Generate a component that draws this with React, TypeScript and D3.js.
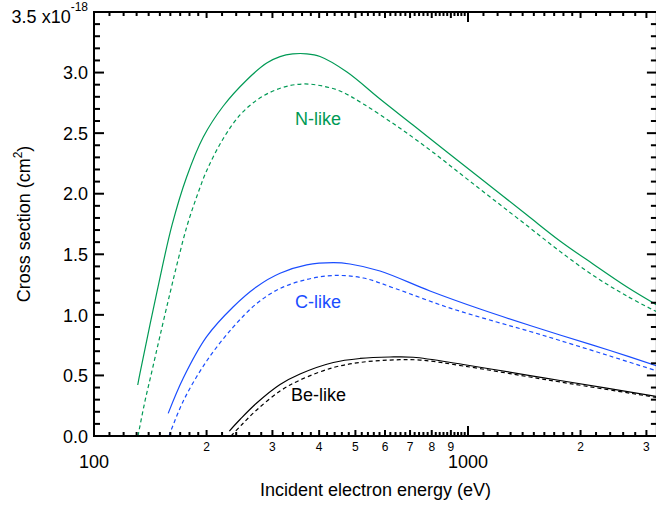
import React from "react";
import * as d3 from "d3";

// ---- data (energy in eV, cross section in 1e-18 cm^2) ----
const nSolidE = [130.9, 132.7, 147.1, 161.7, 176.9, 196.0, 221.7, 256.1, 289.6, 314.4, 340, 370, 402.1, 474.7, 581.8, 712.8, 878.7, 1077, 1438, 1762, 2159, 2662, 3202];
const nSolidS = [0.421, 0.516, 1.18, 1.742, 2.138, 2.468, 2.724, 2.939, 3.079, 3.132, 3.154, 3.155, 3.133, 3.005, 2.782, 2.567, 2.344, 2.13, 1.824, 1.61, 1.42, 1.23, 1.081];
const nDashE = [131.1, 136.9, 142.9, 150.1, 159.7, 167.8, 177.3, 188.5, 200.5, 221.3, 245.7, 272.8, 301.2, 334.3, 366.6, 402.1, 454.8, 524.9, 644.8, 791.4, 971.5, 1168.5, 1435, 1762, 2163, 2657, 3202];
const nDashS = [0, 0.289, 0.537, 0.825, 1.18, 1.453, 1.734, 1.981, 2.196, 2.452, 2.65, 2.774, 2.848, 2.893, 2.906, 2.893, 2.848, 2.741, 2.559, 2.361, 2.146, 1.953, 1.739, 1.524, 1.325, 1.156, 1.024];
const cSolidE = [157.9, 173.3, 200.1, 235.8, 272.3, 314.4, 370.5, 436.4, 483.6, 581.8, 791.4, 1077, 1465, 1762, 2397, 3202];
const cSolidS = [0.187, 0.479, 0.82, 1.067, 1.232, 1.343, 1.412, 1.431, 1.42, 1.362, 1.197, 1.048, 0.912, 0.834, 0.706, 0.578];
const cDashE = [158.7, 173.3, 200.1, 235.8, 272.3, 314.4, 370.5, 436.4, 524.9, 644.8, 877.1, 1193, 1465, 1762, 2397, 3202];
const cDashS = [0, 0.289, 0.619, 0.9, 1.094, 1.218, 1.292, 1.325, 1.304, 1.213, 1.065, 0.941, 0.863, 0.788, 0.66, 0.537];
const beSolidE = [230.1, 245.7, 272.3, 314.4, 355.5, 436.4, 514.4, 618.7, 714.1, 971.5, 1465, 1762, 3202];
const beSolidS = [0.041, 0.136, 0.272, 0.425, 0.512, 0.607, 0.64, 0.652, 0.65, 0.59, 0.499, 0.458, 0.326];
const beDashE = [232.5, 248.7, 272.3, 314.4, 355.5, 436.4, 514.4, 618.7, 744.2, 971.5, 1465, 1762, 3202];
const beDashS = [0, 0.095, 0.215, 0.371, 0.462, 0.565, 0.607, 0.627, 0.627, 0.578, 0.487, 0.446, 0.318];

const yTicks = [0, 0.5, 1.0, 1.5, 2.0, 2.5, 3.0];
const yTop = 3.5;
const xMajor = [100, 1000];
const xLabeled = [200, 300, 400, 500, 600, 700, 800, 900, 2000, 3000];
const xLabelText = ["2", "3", "4", "5", "6", "7", "8", "9", "2", "3"];

const GREEN = "#009a55";
const BLUE = "#1a4dff";
const BLACK = "#000000";

const W = 656, H = 506;
const L = 94, R = 656.9, T = 12, B = 436;
const FONT = "'Liberation Sans', Arial, Helvetica, sans-serif";

export default function App() {
  const x = d3.scaleLog().domain([100, 3200]).range([L, R]);
  const y = d3.scaleLinear().domain([0, 3.5]).range([B, T]);
  const line = d3.line<[number, number]>().x(d => x(d[0])).y(d => y(d[1])).curve(d3.curveCatmullRom.alpha(0.5));
  const mk = (E: number[], S: number[]) => line(E.map((e, i) => [e, S[i]] as [number, number])) || "";

  // minor ticks on x
  const xMinor: number[] = [];
  for (let v = 110; v < 200; v += 10) xMinor.push(v);
  for (let v = 220; v < 1000; v += 20) if (v % 100 !== 0) xMinor.push(v);
  for (let v = 1100; v < 2000; v += 100) xMinor.push(v);
  for (let v = 2200; v < 3200; v += 200) if (v % 1000 !== 0) xMinor.push(v);
  const yMinor: number[] = [];
  for (let i = 1; i < 35; i++) if (i % 5 !== 0) yMinor.push(i / 10);

  const series = [
    { E: nSolidE, S: nSolidS, c: GREEN, dash: undefined },
    { E: nDashE, S: nDashS, c: GREEN, dash: "4,3" },
    { E: cSolidE, S: cSolidS, c: BLUE, dash: undefined },
    { E: cDashE, S: cDashS, c: BLUE, dash: "4,3" },
    { E: beSolidE, S: beSolidS, c: BLACK, dash: undefined },
    { E: beDashE, S: beDashS, c: BLACK, dash: "4,3" },
  ];

  return (
    <svg width={W} height={H} style={{ position: "absolute", left: 0, top: 0, background: "#fff" }} fontFamily={FONT}>
      <defs>
        <clipPath id="plot"><rect x={L} y={T} width={R - L} height={B - T} /></clipPath>
      </defs>
      <g clipPath="url(#plot)" fill="none">
        {series.map((s, i) => (
          <path key={i} d={mk(s.E, s.S)} stroke={s.c} strokeWidth={1.2} strokeDasharray={s.dash} />
        ))}
      </g>
      {/* frame */}
      <rect x={L} y={T} width={R - L} height={B - T} fill="none" stroke="#000" strokeWidth={2} />
      {/* ticks */}
      <g stroke="#000" strokeWidth={2}>
        {[...yTicks, yTop].map(v => (
          <g key={"ym" + v}>
            <line x1={L} x2={L + 10} y1={y(v)} y2={y(v)} />
            <line x1={R} x2={R - 10} y1={y(v)} y2={y(v)} />
          </g>
        ))}
        {yMinor.map(v => (
          <g key={"yn" + v}>
            <line x1={L} x2={L + 6} y1={y(v)} y2={y(v)} />
            <line x1={R} x2={R - 6} y1={y(v)} y2={y(v)} />
          </g>
        ))}
        {xMajor.map(v => (
          <g key={"xm" + v}>
            <line x1={x(v)} x2={x(v)} y1={B} y2={B - 10} />
            <line x1={x(v)} x2={x(v)} y1={T} y2={T + 10} />
          </g>
        ))}
        {xLabeled.map(v => (
          <g key={"xl" + v}>
            <line x1={x(v)} x2={x(v)} y1={B} y2={B - 6} />
            <line x1={x(v)} x2={x(v)} y1={T} y2={T + 6} />
          </g>
        ))}
        {xMinor.map(v => (
          <g key={"xn" + v}>
            <line x1={x(v)} x2={x(v)} y1={B} y2={B - 4} />
            <line x1={x(v)} x2={x(v)} y1={T} y2={T + 4} />
          </g>
        ))}
      </g>
      {/* y labels */}
      <g fontSize={18} textAnchor="end" fill="#000">
        {yTicks.map(v => (
          <text key={"yt" + v} x={88} y={y(v) + 6.7}>{v.toFixed(1)}</text>
        ))}
        <text x={88} y={23}>
          {yTop.toFixed(1)} x10<tspan fontSize={12} dy={-12}>-18</tspan>
        </text>
      </g>
      {/* x labels */}
      <g textAnchor="middle" fill="#000">
        {xLabeled.map((v, i) => (
          <text key={"xlt" + v} x={x(v)} y={451} fontSize={12}>{xLabelText[i]}</text>
        ))}
        {xMajor.map(v => (
          <text key={"xmt" + v} x={x(v)} y={468} fontSize={18}>{v}</text>
        ))}
        <text x={(L + R) / 2} y={496} fontSize={18}>Incident electron energy (eV)</text>
      </g>
      {/* y title */}
      <text transform={`translate(30,${(T + B) / 2}) rotate(-90)`} textAnchor="middle" fontSize={18} fill="#000">
        Cross section (cm<tspan fontSize={12} dy={-8}>2</tspan><tspan dy={8}>)</tspan>
      </text>
      {/* series labels */}
      <text x={295} y={125} fontSize={18} fill={GREEN}>N-like</text>
      <text x={295} y={308} fontSize={18} fill={BLUE}>C-like</text>
      <text x={291} y={401} fontSize={18} fill={BLACK}>Be-like</text>
    </svg>
  );
}
